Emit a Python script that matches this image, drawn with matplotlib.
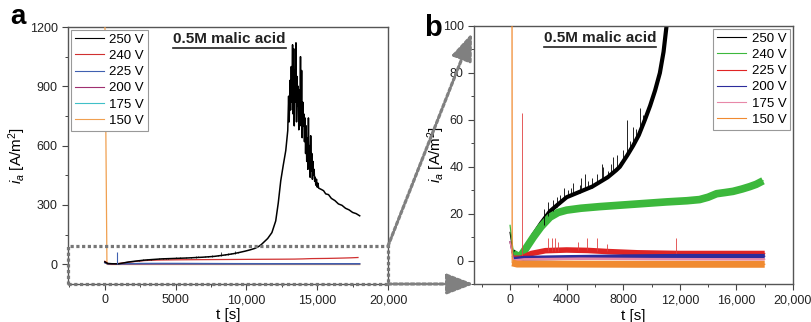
import numpy as np
import matplotlib
matplotlib.use("Agg")
import matplotlib.pyplot as plt
from matplotlib.ticker import MultipleLocator, FuncFormatter
from matplotlib.patches import Rectangle, FancyArrowPatch
from matplotlib.lines import Line2D

plt.rcParams['font.family'] = ['Liberation Sans', 'DejaVu Sans']
plt.rcParams['mathtext.fontset'] = 'custom'
plt.rcParams['mathtext.rm'] = 'Liberation Sans'
plt.rcParams['mathtext.it'] = 'Liberation Sans:italic'

# current transients, values
voltages = ['250 V', '240 V', '225 V', '200 V', '175 V', '150 V']

t_250 = [0, 200, 500, 940, 1200, 1650, 2200, 2820, 3400, 4000, 4600, 5200, 5800,
         6350, 6900, 7500, 7760, 8300, 8700, 9100, 9530, 9900, 10250, 10590,
         10850, 11060, 11500, 11800, 12070, 12250, 12425, 12600, 12780, 12920,
         12980, 13020, 13080, 13120, 13170, 13210, 13260, 13300, 13340, 13380,
         13420, 13460, 13500, 13540, 13580, 13620, 13660, 13700, 13740, 13780,
         13820, 13860, 13900, 13940, 13980, 14020, 14060, 14100, 14140, 14180,
         14220, 14260, 14300, 14340, 14380, 14420, 14460, 14500, 14540, 14580,
         14620, 14660, 14700, 14740, 14780, 14820, 14860, 14900, 14950, 15000,
         15050, 15100, 15300, 15450, 15600, 15800, 16000, 16250, 16500, 16750,
         17000, 17250, 17500, 17750, 18000]
i_250 = [12, 4, 2.5, 2, 5, 11, 16, 21, 24, 27, 28.5, 30, 31.5,
         33.5, 35.5, 38.5, 40, 45, 49, 53.5, 60, 66, 72.5, 80,
         89, 100, 130, 160, 219, 310, 422, 500, 575, 676,
         850, 720, 930, 780, 1000, 820, 1110, 760, 1090, 700,
         980, 820, 1120, 720, 950, 800, 900, 680, 880, 760,
         1050, 700, 980, 640, 820, 700, 760, 620, 740, 560,
         700, 520, 640, 480, 740, 520, 600, 440, 650, 470,
         560, 430, 520, 450, 480, 420, 440, 400, 430, 390,
         410, 385, 378, 372, 356, 352, 333, 322, 305, 298,
         283, 275, 262, 256, 245]

t_240 = [0, 235, 700, 1100, 1650, 2200, 2820, 3400, 4000, 5000, 6350, 8700, 11060,
         12500, 13400, 14000, 14600, 15200, 15760, 16400, 16940, 17400, 17880]
i_240 = [15, 3, 1.5, 5, 10, 14.5, 18.5, 20.5, 21.5, 22.3, 23, 24, 25,
         25.5, 26, 27, 28.5, 29, 29.5, 30.5, 31.5, 32.5, 34]

t_225 = [0, 250, 800, 1500, 2500, 4000, 5500, 7000, 9000, 12000, 15000, 18000]
i_225 = [8, 1, 1, 3, 4.2, 4.5, 4.3, 3.8, 3.3, 3, 3, 3]

t_200 = [0, 250, 1000, 4000, 8000, 12000, 18000]
i_200 = [8, 0.5, 1, 1.3, 1.6, 1.8, 1.8]

t_175 = [0, 250, 1000, 5000, 10000, 18000]
i_175 = [8, 0, 0.5, 0.8, 0.6, 0.5]

t_150 = [0, 150, 500, 3000, 9000, 18000]
i_150 = [1300, -1, -1.5, -1.5, -1.6, -1.6]

# short spikes sitting on the noisy bands
spike_t_250 = [2400, 2700, 3000, 3290, 3530, 3800, 4120, 4300, 4470, 4940, 5000, 5290, 5500,
               5760, 6120, 6470, 6600, 6940, 7100, 7290, 7550, 7760, 8000, 8240, 8470, 8710,
               8900, 9180, 9400]
spike_lo_250 = [15, 19, 21, 23, 24, 26, 27, 28, 28, 29, 29.5, 30, 30.5,
                31, 33, 34, 34.5, 35.5, 36.5, 37, 39, 40, 42, 44, 47, 49,
                51, 54, 58]
spike_hi_250 = [22, 25, 26, 27, 28, 31, 30, 31, 33, 32, 35, 37, 34,
                35, 37, 41, 40, 38, 41, 44, 45, 42, 47, 60, 51, 57,
                56, 65, 62]

spike_t_225 = [850, 2700, 2980, 3190, 3400, 4820, 5460, 6170, 6880, 11700]
spike_lo_225 = [1, 4, 4, 4, 4, 4.5, 4.3, 4.2, 4, 3]
spike_hi_225 = [63, 9.4, 9.8, 9.5, 7.7, 7.7, 9.4, 9.4, 7.2, 9.4]

series = [(t_250, i_250), (t_240, i_240), (t_225, i_225),
          (t_200, i_200), (t_175, i_175), (t_150, i_150)]

colors_a = ['#000000', '#d03030', '#4060b0', '#a03070', '#40c0c8', '#f0a050']
colors_b = ['#000000', '#3cb83c', '#e02424', '#2c2c9c', '#e888a8', '#f08a30']
band_lw_b = [3.0, 5.5, 4.0, 3.5, 1.8, 5.0]

fig = plt.figure(figsize=(8.11, 3.22), dpi=100)
ax_a = fig.add_axes([68/811, 1-284/322, 320/811, 257/322])
ax_b = fig.add_axes([474/811, 1-284/322, 319/811, 258/322])


def tfmt(x, pos):
    return f'{int(x):,}' if x >= 10000 else f'{int(x)}'


def style(ax):
    for s in ax.spines.values():
        s.set_color('#555555')
        s.set_linewidth(1.0)
    ax.tick_params(which='both', direction='out', top=False, right=False,
                   colors='#444444', labelcolor='#222222', labelsize=9)
    ax.tick_params(which='major', length=4, width=0.8)
    ax.tick_params(which='minor', length=2.2, width=0.7)
    ax.xaxis.set_major_formatter(FuncFormatter(tfmt))
    ax.set_xlabel('t [s]', fontsize=11)
    ax.set_ylabel(r'$i_a$ [A/m$^2$]', fontsize=11)


def add_legend(ax, handles, loc):
    leg = ax.legend(handles=handles, loc=loc, fontsize=9.5, frameon=True,
                    fancybox=False, edgecolor='#999999', framealpha=1,
                    borderpad=0.3, borderaxespad=0.2, labelspacing=0.3,
                    handlelength=2.2, handletextpad=0.4)
    leg.get_frame().set_linewidth(0.8)
    for ln in leg.get_lines():
        ln.set_linewidth(0.8)


# panel a: 150 V underneath, the others on top
lines_a = []
for k, ((t, i), c, lab) in enumerate(zip(series, colors_a, voltages)):
    ln, = ax_a.plot(t, i, color=c, lw=1.1 if k == 0 else 0.9, label=lab, zorder=8 - k)
    lines_a.append(ln)
ax_a.vlines(spike_t_250, spike_lo_250, spike_hi_250, color=colors_a[0], lw=0.5, zorder=8)
ax_a.vlines(spike_t_225[:1], spike_lo_225[:1], spike_hi_225[:1], color=colors_a[2], lw=0.8, zorder=8)
ax_a.set_xlim(-2600, 20000)
ax_a.set_ylim(-100, 1200)
ax_a.xaxis.set_major_locator(MultipleLocator(5000))
ax_a.xaxis.set_minor_locator(MultipleLocator(2500))
ax_a.yaxis.set_major_locator(MultipleLocator(300))
ax_a.yaxis.set_minor_locator(MultipleLocator(150))
style(ax_a)
ax_a.yaxis.set_label_coords(-0.125, 0.5)
ax_a.xaxis.set_label_coords(0.5, -0.095)
add_legend(ax_a, lines_a, 'upper left')

# zoom box in panel a
x0, x1 = ax_a.get_xlim()
box = Rectangle((x0, -100), x1 - x0, 190, fill=False, edgecolor='#777777',
                lw=2.3, linestyle=(0, (1, 0.8)), clip_on=False, zorder=9)
ax_a.add_patch(box)

# panel b
lines_b = []
for k, ((t, i), c, lab) in enumerate(zip(series, colors_b, voltages)):
    ln, = ax_b.plot(t, i, color=c, lw=0.9, label=lab, zorder=2 + k)
    ax_b.plot(t[1:], i[1:], color=c, lw=band_lw_b[k], solid_joinstyle='round',
              solid_capstyle='butt', zorder=2 + k)
    lines_b.append(ln)
    if k == 1:
        ax_b.vlines(spike_t_250, spike_lo_250, spike_hi_250, color='#000000', lw=0.6, zorder=3.5)
ax_b.vlines(spike_t_225, spike_lo_225, spike_hi_225, color='#e04040', lw=0.6, zorder=4.5)
ax_b.set_xlim(-2550, 20000)
ax_b.set_ylim(-10, 100)
ax_b.xaxis.set_major_locator(MultipleLocator(4000))
ax_b.xaxis.set_minor_locator(MultipleLocator(2000))
ax_b.yaxis.set_major_locator(MultipleLocator(20))
ax_b.yaxis.set_minor_locator(MultipleLocator(10))
style(ax_b)
ax_b.yaxis.set_label_coords(-0.085, 0.5)
ax_b.xaxis.set_label_coords(0.5, -0.095)
add_legend(ax_b, lines_b, 'upper right')

# titles with underline
titles = []
for ax, xc, yc in [(ax_a, 0.505, 0.953), (ax_b, 0.395, 0.955)]:
    txt = ax.text(xc, yc, '0.5M malic acid', transform=ax.transAxes, ha='center',
                  va='center', fontsize=11, fontweight='bold', color='#222222', zorder=10)
    titles.append((ax, txt))

fig.text(10/811, 1-24/322, 'a', fontsize=20, fontweight='bold', va='baseline')
fig.text(424/811, 1-36/322, 'b', fontsize=21, fontweight='bold', va='baseline')

# arrows from the box to panel b
arr_col = '#808080'
for (xa, ya), (xb, yb) in [((388, 246), (472, 33)), ((388, 284), (474, 284))]:
    ar = FancyArrowPatch((xa/811, 1-ya/322), (xb/811, 1-yb/322),
                         transform=fig.transFigure, arrowstyle='-|>,head_length=1.1,head_width=0.42',
                         mutation_scale=15, lw=2.3, linestyle=(0, (1, 0.8)),
                         color=arr_col, shrinkA=0, shrinkB=0, clip_on=False)
    fig.add_artist(ar)

fig.canvas.draw()
inv = fig.transFigure.inverted()
for ax, txt in titles:
    bb = txt.get_window_extent()
    (fx0, fy0), (fx1, fy1) = inv.transform([[bb.x0, bb.y0], [bb.x1, bb.y1]])
    fig.add_artist(Line2D([fx0, fx1], [fy0 - 0.006, fy0 - 0.006], color='#222222', lw=1.2))

fig.savefig('out.png', dpi=100)
